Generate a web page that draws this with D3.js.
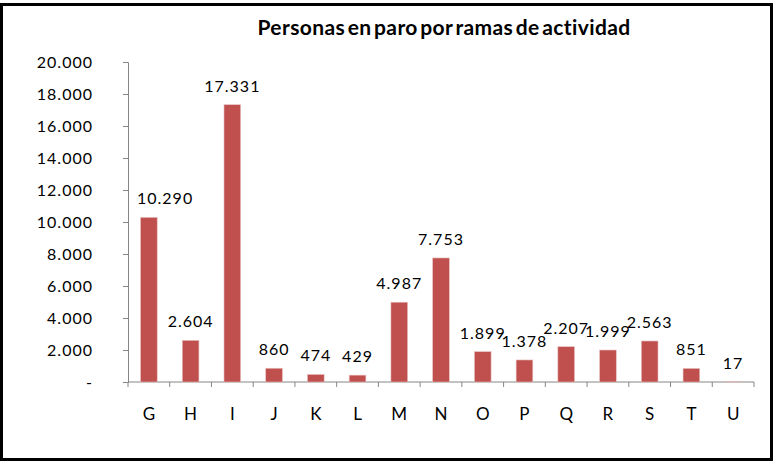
<!DOCTYPE html>
<html>
<head>
<meta charset="utf-8">
<script src="https://cdn.jsdelivr.net/npm/d3@7"></script>
<style>
  body { margin: 0; background: #fff; }
  svg { display: block; }
</style>
</head>
<body>
<div id="chart"></div>
<script>
// ramas de actividad y personas en paro
var ramas = ["G", "H", "I", "J", "K", "L", "M", "N", "O", "P", "Q", "R", "S", "T", "U"];
var parados = [10290, 2604, 17331, 860, 474, 429, 4987, 7753, 1899, 1378, 2207, 1999, 2563, 851, 17];
var yTicks = [0, 2000, 4000, 6000, 8000, 10000, 12000, 14000, 16000, 18000, 20000];

var width = 776, height = 462;
var svg = d3.select("#chart").append("svg")
    .attr("width", width)
    .attr("height", height);

// marco exterior
svg.append("rect")
    .attr("x", 1.5).attr("y", 4.5)
    .attr("width", 770).attr("height", 455)
    .attr("fill", "none")
    .attr("stroke", "#000")
    .attr("stroke-width", 3);

var fmt = function(v) {
    if (v === 0) return "-";
    return d3.format(",")(v).replace(/,/g, ".");
};

var x = d3.scaleBand().domain(ramas).range([128, 754]).paddingInner(0.6).paddingOuter(0.3);
var y = d3.scaleLinear().domain([0, 20000]).range([382, 62]);

var font = "Lato, 'Open Sans', sans-serif";

// titulo
svg.append("text")
    .attr("x", 444).attr("y", 35)
    .attr("text-anchor", "middle")
    .style("font-family", "Lato, sans-serif")
    .style("font-weight", "bold")
    .style("font-size", "21px")
    .style("letter-spacing", "0.4px")
    .style("word-spacing", "-3px")
    .text("Personas en paro por ramas de actividad");

// eje y
var yAxis = svg.append("g")
    .attr("transform", "translate(128,0)")
    .call(d3.axisLeft(y).tickValues(yTicks).tickSize(5).tickPadding(30).tickFormat(fmt));
yAxis.select(".domain").attr("stroke", "#868686");
yAxis.selectAll(".tick line").attr("stroke", "#868686");
yAxis.selectAll(".tick text")
    .style("font-family", font)
    .style("font-size", "16px")
    .style("letter-spacing", "1px")
    .attr("fill", "#000");

// eje x
var xAxisG = svg.append("g").attr("transform", "translate(0,382)");
xAxisG.append("line")
    .attr("x1", 128).attr("x2", 754)
    .attr("stroke", "#868686");
var step = x.step();
var bounds = ramas.map(function(d) { return x(d) - (step - x.bandwidth()) / 2; });
bounds.push(754);
xAxisG.selectAll("line.tk").data(bounds).enter().append("line")
    .attr("class", "tk")
    .attr("x1", function(d) { return d; }).attr("x2", function(d) { return d; })
    .attr("y1", 0).attr("y2", 5)
    .attr("stroke", "#868686");
xAxisG.selectAll("text").data(ramas).enter().append("text")
    .attr("x", function(d) { return x(d) + x.bandwidth() / 2; })
    .attr("y", 38)
    .attr("text-anchor", "middle")
    .style("font-family", font)
    .style("font-size", "17px")
    .text(function(d) { return d; });

// barras
var datos = ramas.map(function(r, i) { return { rama: r, valor: parados[i] }; });
svg.selectAll("rect.bar").data(datos).enter().append("rect")
    .attr("class", "bar")
    .attr("x", function(d) { return x(d.rama); })
    .attr("y", function(d) { return y(d.valor); })
    .attr("width", x.bandwidth())
    .attr("height", function(d) { return y(0) - y(d.valor); })
    .attr("fill", "#c0504d")
    .attr("stroke", "#e8c3c2")
    .attr("stroke-width", 0.6);

// etiquetas de valor
var labels = svg.selectAll("text.val").data(datos).enter().append("text")
    .attr("class", "val")
    .attr("x", function(d) { return x(d.rama) + x.bandwidth() / 2; })
    .attr("y", function(d) { return y(d.valor) - 13; })
    .attr("text-anchor", "middle")
    .style("font-family", font)
    .style("font-size", "16px")
    .style("letter-spacing", "1px")
    .text(function(d) { return fmt(d.valor); });

// como en Excel: la etiqueta no pisa el eje
labels.each(function() {
    var bb = this.getBBox();
    if (bb.x < 137) {
        d3.select(this).attr("x", +d3.select(this).attr("x") + (137 - bb.x));
    }
});
</script>
</body>
</html>
